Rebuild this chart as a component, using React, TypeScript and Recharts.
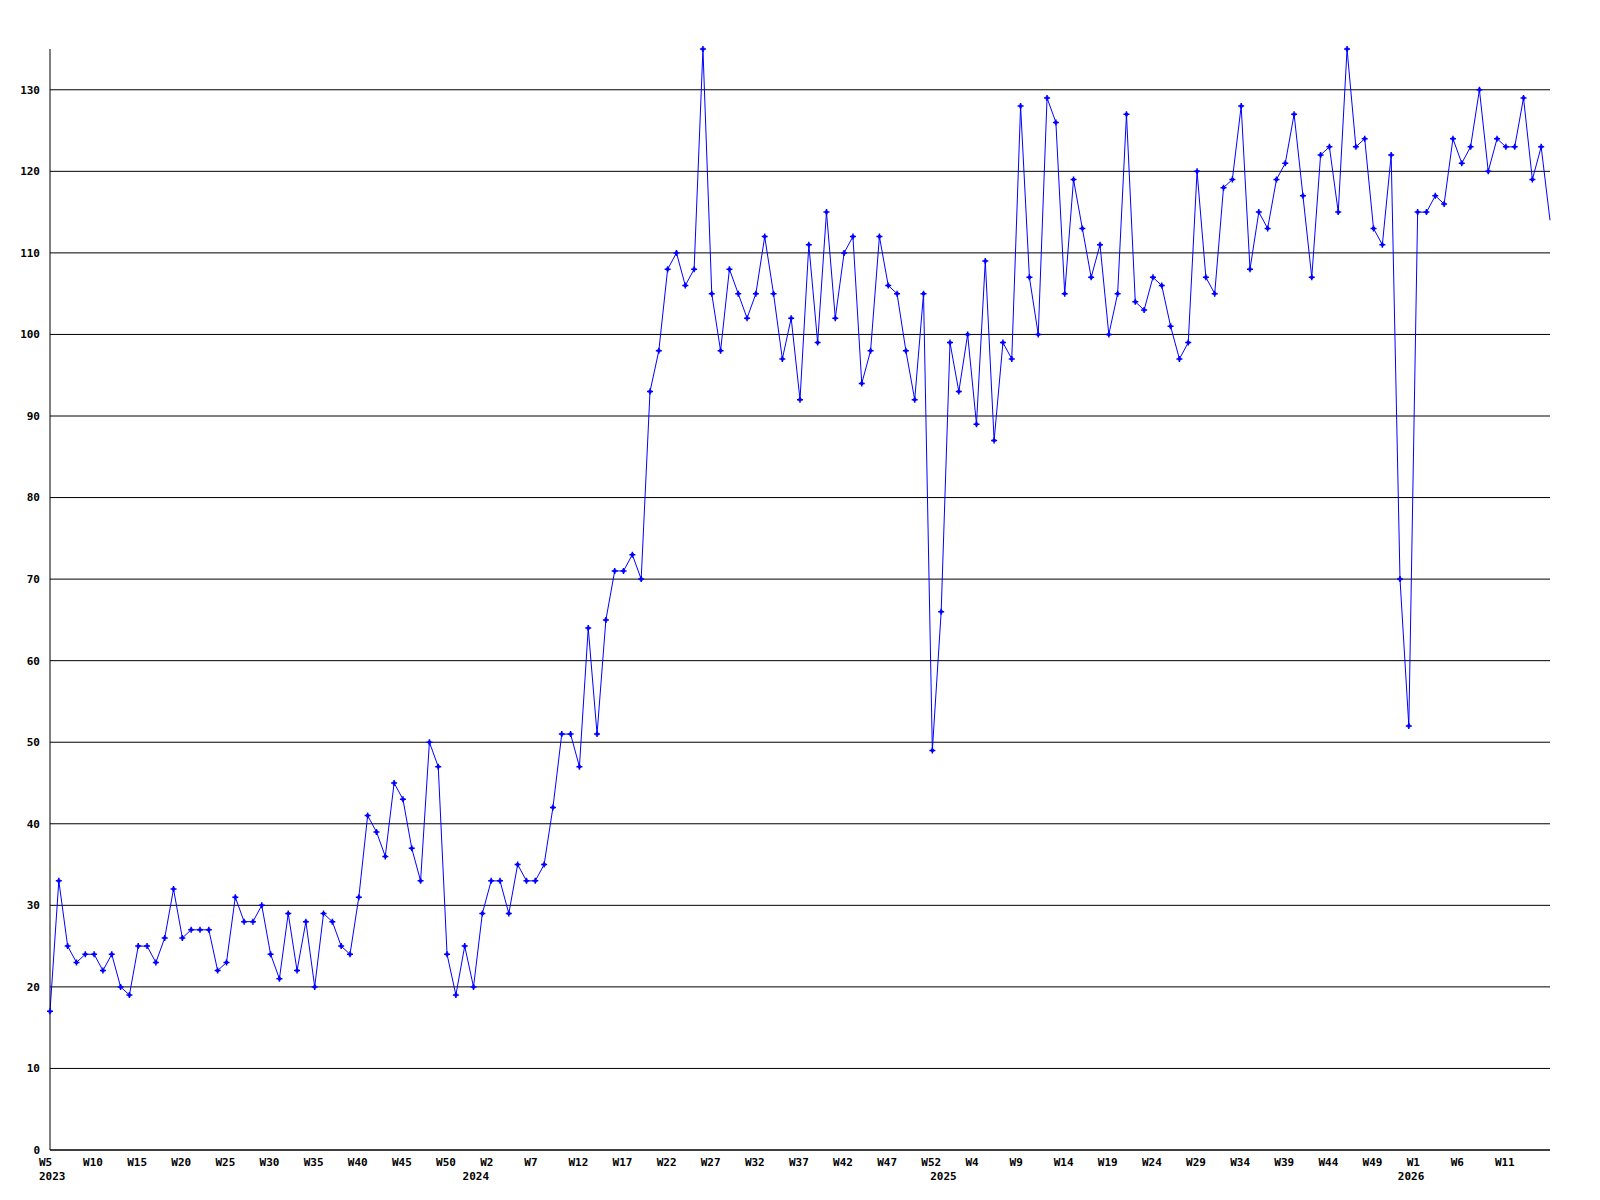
import { CartesianGrid, Line, LineChart, XAxis, YAxis } from "recharts";

// weekly values per year; 2023 starts at W5, the other years at W0
const firstWeek2023 = 5;
const values2023 = [
  17, 33, 25, 23, 24, 24, 22, 24, 20, 19, 25, 25, 23, 26, 32, 26, 27, 27, 27, 22,
  23, 31, 28, 28, 30, 24, 21, 29, 22, 28, 20, 29, 28, 25, 24, 31, 41, 39, 36, 45,
  43, 37, 33, 50, 47, 24, 19, 25,
];
const values2024 = [
  20, 29, 33, 33, 29, 35, 33, 33, 35, 42, 51, 51, 47, 64, 51, 65, 71, 71, 73, 70,
  93, 98, 108, 110, 106, 108, 135, 105, 98, 108, 105, 102, 105, 112, 105, 97, 102, 92, 111, 99,
  115, 102, 110, 112, 94, 98, 112, 106, 105, 98, 92, 105, 49,
];
const values2025 = [
  66, 99, 93, 100, 89, 109, 87, 99, 97, 128, 107, 100, 129, 126, 105, 119, 113, 107, 111, 100,
  105, 127, 104, 103, 107, 106, 101, 97, 99, 120, 107, 105, 118, 119, 128, 108, 115, 113, 119, 121,
  127, 117, 107, 122, 123, 115, 135, 123, 124, 113, 111, 122, 70,
];
const values2026 = [52, 115, 115, 117, 116, 124, 121, 123, 130, 120, 124, 123, 123, 129, 119, 123, 114];

const years = [
  { year: 2023, start: firstWeek2023, values: values2023 },
  { year: 2024, start: 0, values: values2024 },
  { year: 2025, start: 0, values: values2025 },
  { year: 2026, start: 0, values: values2026 },
];

const yTicks = [0, 10, 20, 30, 40, 50, 60, 70, 80, 90, 100, 110, 120, 130];
const labelEvery = 5;

type Row = { idx: number; year: number; week: string; value: number };
const rows: Row[] = [];
const yearStarts: number[] = [];
years.forEach((y) => {
  yearStarts.push(rows.length);
  y.values.forEach((v, i) => {
    rows.push({ idx: rows.length, year: y.year, week: `W${y.start + i}`, value: v });
  });
});

const lastIdx = rows.length - 1;
// no week label on the last point, it sits on the right edge
const weekTicks = rows.filter((r) => r.idx % labelEvery === 0 && r.idx < lastIdx).map((r) => r.idx);
const xTicks = Array.from(new Set([...weekTicks, ...yearStarts])).sort((a, b) => a - b);

const font = "'DejaVu Sans Mono', monospace";

function XTick(props: any) {
  const { x, y, payload } = props;
  const row = rows[payload.value];
  if (!row) return null;
  const style = { fontFamily: font, fontSize: 11, fontWeight: "bold" as const, fill: "#000" };
  return (
    <g>
      {weekTicks.includes(payload.value) && (
        <text x={x} y={y} dx={-11} dy={12} textAnchor="start" dominantBaseline="central" style={style}>
          {row.week}
        </text>
      )}
      {yearStarts.includes(payload.value) && (
        <text x={x} y={y} dx={-11} dy={26} textAnchor="start" dominantBaseline="central" style={style}>
          {row.year}
        </text>
      )}
    </g>
  );
}

function Marker(props: any) {
  const { cx, cy, index } = props;
  if (index === lastIdx || cx == null) return <g key={index} />;
  return (
    <g key={index}>
      <path d={`M${cx - 3},${cy}H${cx + 3}M${cx},${cy - 3}V${cy + 3}`} stroke="#0000ff" strokeWidth={1.5} />
      <rect x={cx - 1.5} y={cy - 1.5} width={3} height={3} fill="#0000ff" />
    </g>
  );
}

export default function App() {
  return (
    <div style={{ width: 1584, height: 1192, background: "#fff" }}>
      <LineChart width={1584} height={1192} data={rows} margin={{ top: 41, right: 42, bottom: 10, left: 0 }}>
        <CartesianGrid horizontal vertical={false} horizontalValues={yTicks} stroke="#000" strokeWidth={1} />
        <XAxis
          dataKey="idx"
          type="number"
          domain={[0, lastIdx]}
          ticks={xTicks}
          interval={0}
          height={40}
          axisLine={{ stroke: "#000" }}
          tickLine={false}
          tickSize={0}
          tickMargin={0}
          tick={<XTick />}
        />
        <YAxis
          domain={[0, 135]}
          ticks={yTicks}
          interval={0}
          width={42}
          axisLine={{ stroke: "#000" }}
          tickLine={false}
          tickSize={0}
          tickMargin={10}
          tick={{ fill: "#000", fontSize: 11, fontFamily: font, fontWeight: "bold" }}
        />
        <Line
          type="linear"
          dataKey="value"
          stroke="#0000ff"
          strokeWidth={1}
          dot={<Marker />}
          activeDot={false}
          isAnimationActive={false}
        />
      </LineChart>
    </div>
  );
}
